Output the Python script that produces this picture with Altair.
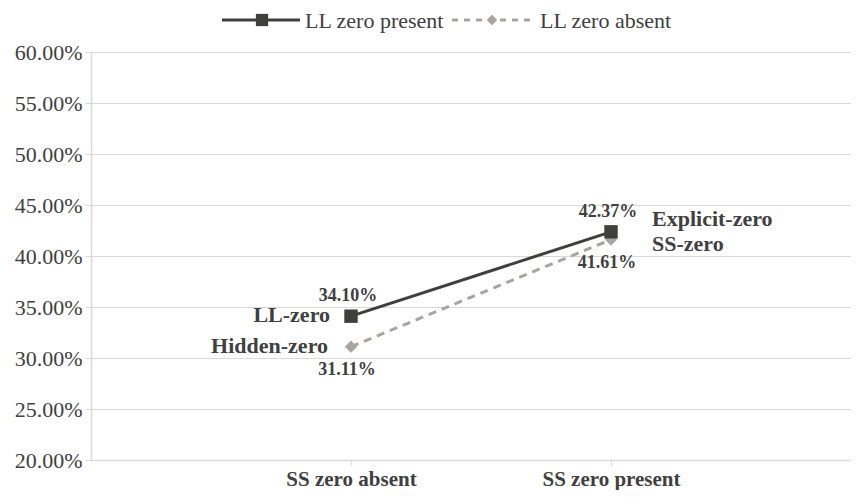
import altair as alt
import pandas as pd

categories = ["SS zero absent", "SS zero present"]
series_names = ["LL zero present", "LL zero absent"]
ll_present = [34.10, 42.37]
ll_absent = [31.11, 41.61]
y_ticks = [20, 25, 30, 35, 40, 45, 50, 55, 60]
point_tags = [["LL-zero", "Explicit-zero"], ["Hidden-zero", "SS-zero"]]

DARK = "#3f3f3c"
GREY = "#a9a4a0"
GRID = "#d9d9d9"
TXT = "#404040"
FONT = "'Liberation Serif', 'Times New Roman', serif"

rows = []
for si, (name, vals) in enumerate(zip(series_names, [ll_present, ll_absent])):
    for ci, (cat, v) in enumerate(zip(categories, vals)):
        rows.append({"series": name, "s": si, "cat": cat, "x": ci + 1, "v": v,
                     "lab": f"{v:.2f}%", "tag": point_tags[si][ci]})
df = pd.DataFrame(rows)

W, H = 760, 408
xmax = W / 260.0

x = alt.X("x:Q", scale=alt.Scale(domain=[0, xmax], nice=False, zero=False),
          axis=alt.Axis(values=[1, 2], title=None, grid=False,
                        labelExpr="datum.value == 1 ? '%s' : '%s'" % tuple(categories),
                        domainColor=GRID, domainWidth=1.5, tickColor=GRID, tickSize=5,
                        labelFont=FONT, labelFontSize=21, labelFontWeight="bold",
                        labelColor=TXT, labelPadding=3))
y = alt.Y("v:Q", scale=alt.Scale(domain=[20, 60], nice=False, zero=False),
          axis=alt.Axis(values=y_ticks, title=None,
                        labelExpr="format(datum.value, '.2f') + '%'",
                        domainColor=GRID, domainWidth=1.5, tickColor=GRID, tickSize=6,
                        gridColor=GRID, gridWidth=1.2,
                        labelFont=FONT, labelFontSize=22, labelColor=TXT, labelPadding=3))

base = alt.Chart(df)

line1 = base.transform_filter("datum.s == 0").mark_line(color=DARK, strokeWidth=3).encode(x=x, y=y)
line2 = base.transform_filter("datum.s == 1").mark_line(color=GREY, strokeWidth=3, strokeDash=[8, 6]).encode(x=x, y=y)
pt1 = base.transform_filter("datum.s == 0").mark_point(shape="square", filled=True, color=DARK, size=180, opacity=1).encode(x=x, y=y)
pt2 = base.transform_filter("datum.s == 1").mark_point(shape="diamond", filled=True, color=GREY, size=150, opacity=1).encode(x=x, y=y)

tfont = dict(font=FONT, fontWeight="bold", color=TXT, baseline="middle")
val_top = base.transform_filter("datum.s == 0").mark_text(fontSize=18, dx=-3, dy=-20, **tfont).encode(x=x, y=y, text="lab:N")
val_bot = base.transform_filter("datum.s == 1").mark_text(fontSize=18, dx=-4, dy=23, **tfont).encode(x=x, y=y, text="lab:N")
tag_l1 = base.transform_filter("datum.s == 0 && datum.x == 1").mark_text(fontSize=22, align="right", dx=-21, dy=-1, **tfont).encode(x=x, y=y, text="tag:N")
tag_l2 = base.transform_filter("datum.s == 1 && datum.x == 1").mark_text(fontSize=22, align="right", dx=-23, dy=-1, **tfont).encode(x=x, y=y, text="tag:N")
tag_r1 = base.transform_filter("datum.s == 0 && datum.x == 2").mark_text(fontSize=22, align="left", dx=41, dy=-13, **tfont).encode(x=x, y=y, text="tag:N")
tag_r2 = base.transform_filter("datum.s == 1 && datum.x == 2").mark_text(fontSize=22, align="left", dx=41, dy=4, **tfont).encode(x=x, y=y, text="tag:N")

# legend (decoration)
leg = pd.DataFrame({"name": series_names, "k": [0, 1]})
lb = alt.Chart(leg)
LY = -32
lg_line1 = lb.transform_filter("datum.k == 0").mark_rule(color=DARK, strokeWidth=3).encode(x=alt.value(131), x2=alt.value(209), y=alt.value(LY))
lg_pt1 = lb.transform_filter("datum.k == 0").mark_point(shape="square", filled=True, color=DARK, size=150, opacity=1).encode(x=alt.value(171), y=alt.value(LY))
lg_txt1 = lb.transform_filter("datum.k == 0").mark_text(align="left", baseline="middle", font=FONT, fontSize=22, color=TXT).encode(x=alt.value(214), y=alt.value(LY + 1), text="name:N")
lg_line2 = lb.transform_filter("datum.k == 1").mark_rule(color=GREY, strokeWidth=3, strokeDash=[6, 6]).encode(x=alt.value(361), x2=alt.value(444), y=alt.value(LY))
lg_pt2 = lb.transform_filter("datum.k == 1").mark_point(shape="diamond", filled=True, color=GREY, size=110, opacity=1).encode(x=alt.value(401), y=alt.value(LY))
lg_txt2 = lb.transform_filter("datum.k == 1").mark_text(align="left", baseline="middle", font=FONT, fontSize=22, color=TXT).encode(x=alt.value(449), y=alt.value(LY + 1), text="name:N")

chart = alt.layer(
    line2, line1, pt2, pt1, val_top, val_bot, tag_l1, tag_l2, tag_r1, tag_r2,
    lg_line1, lg_pt1, lg_txt1, lg_line2, lg_pt2, lg_txt2
).properties(
    width=W, height=H,
    autosize=alt.AutoSizeParams(type="none"),
    padding={"left": 83, "top": 44, "right": 0, "bottom": 30},
).configure_view(stroke=None).configure(background="white")

chart.save("out.html", embed_options={"renderer": "svg", "actions": False})
